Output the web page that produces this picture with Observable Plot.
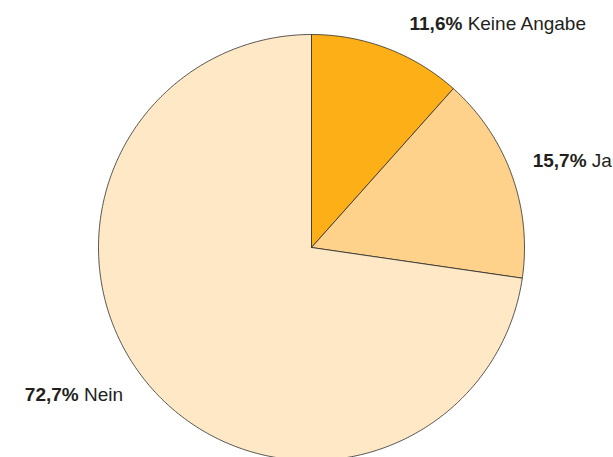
<!DOCTYPE html>
<html>
<head>
<meta charset="utf-8">
<script src="https://cdn.jsdelivr.net/npm/d3@7"></script>
<script src="https://cdn.jsdelivr.net/npm/@observablehq/plot@0.6"></script>
<style>
  html, body { margin: 0; padding: 0; background: #fff; }
</style>
</head>
<body>
<div id="chart"></div>
<script>
const categories = ["Keine Angabe", "Ja", "Nein"];
const shares = [11.6, 15.7, 72.7];
const colors = ["#FCAF17", "#FED28A", "#FFE8C5"];

const pie = d3.pie().sort(null).value(d => d.value).startAngle(0).endAngle(2 * Math.PI);
const arcs = pie(categories.map((c, i) => ({label: c, value: shares[i]})));

// polygon points for each slice (unit circle, angle clockwise from top)
const pts = [];
for (const a of arcs) {
  const lab = a.data.label;
  pts.push({label: lab, x: 0, y: 0});
  const n = Math.max(2, Math.ceil((a.endAngle - a.startAngle) / (Math.PI / 360)));
  for (let k = 0; k <= n; k++) {
    const t = a.startAngle + (a.endAngle - a.startAngle) * k / n;
    pts.push({label: lab, x: Math.sin(t), y: Math.cos(t)});
  }
  pts.push({label: lab, x: 0, y: 0});
}

const labelR = 1.12;
const fmt = v => v.toFixed(1).replace(".", ",") + "%";
const labels = arcs.map(a => {
  const m = (a.startAngle + a.endAngle) / 2;
  return {label: a.data.label, x: labelR * Math.sin(m), y: labelR * Math.cos(m), text: fmt(a.data.value) + "|" + a.data.label};
});

const textStyle = {fontSize: 19, fill: "#231f20", fontFamily: "Liberation Sans, Arial, sans-serif", className: "lbl"};
const nudge = {"Keine Angabe": [13, -1], "Ja": [-3, -5], "Nein": [-8, -9]};

const plot = Plot.plot({
  width: 613,
  height: 457,
  margin: 0,
  x: {domain: [-311 / 213, (613 - 311) / 213], axis: null},
  y: {domain: [-(457 - 247) / 213, 247 / 213], axis: null},
  color: {domain: categories, range: colors},
  style: {fontFamily: "Liberation Sans, Arial, sans-serif", background: "#fff"},
  marks: [
    Plot.line(pts, {x: "x", y: "y", z: "label", fill: "label", stroke: "#2a2a2a", strokeWidth: 0.8, curve: "linear", strokeLinejoin: "round"}),
    ...labels.map(d => Plot.text([d], {
      x: "x", y: "y", text: "text",
      textAnchor: d.x >= 0 ? "start" : "end",
      dx: nudge[d.label][0], dy: nudge[d.label][1],
      ...textStyle
    }))
  ]
});

plot.querySelectorAll(".lbl text").forEach(t => {
  const [p, name] = t.textContent.split("|");
  t.textContent = "";
  const ns = "http://www.w3.org/2000/svg";
  const b = document.createElementNS(ns, "tspan");
  b.setAttribute("font-weight", "bold");
  b.textContent = p;
  const r = document.createElementNS(ns, "tspan");
  r.textContent = "\u00a0" + name;
  t.appendChild(b);
  t.appendChild(r);
});

document.getElementById("chart").appendChild(plot);
</script>
</body>
</html>
